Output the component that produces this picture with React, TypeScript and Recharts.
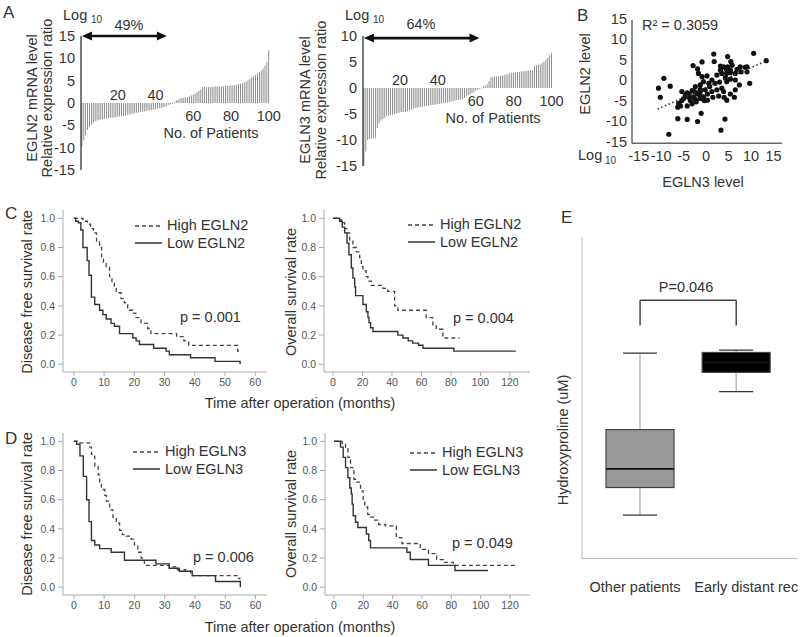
import React from 'react';
import {
  BarChart,
  Bar,
  Cell,
  XAxis,
  YAxis,
  ReferenceLine,
  ScatterChart,
  Scatter,
  LineChart,
  Line,
  Legend,
} from 'recharts';

const FONT = '"Liberation Sans", Arial, Helvetica, sans-serif';
const INK = '#333';

// A: relative expression ratio (log10) per patient, sorted
const PATIENTS = Array.from({ length: 100 }, (_, i) => i + 1);
const PATIENT_TICKS = [20, 40, 60, 80, 100];
const EGLN2_RATIO = [
  -9.7, -8.4, -7.2, -6.0, -5.3, -4.8, -4.4, -4.1, -3.9, -3.8,
  -3.7, -3.6, -3.5, -3.45, -3.4, -3.35, -3.3, -3.25, -3.2, -3.1,
  -3.0, -2.95, -2.9, -2.8, -2.7, -2.6, -2.5, -2.4, -2.3, -2.2,
  -2.1, -2.0, -1.95, -1.9, -1.8, -1.7, -1.6, -1.55, -1.5, -1.4,
  -1.3, -1.2, -1.1, -0.95, -0.8, -0.6, -0.45, -0.3, -0.15, 0.3,
  0.6, 0.8, 1.0, 1.1, 1.2, 1.3, 1.35, 1.5, 1.7, 1.9,
  2.1, 2.4, 2.7, 3.0, 3.5, 3.6, 3.6, 3.6, 3.6, 3.65,
  3.65, 3.7, 3.7, 3.7, 3.75, 3.75, 3.8, 3.8, 3.85, 3.9,
  3.95, 4.0, 4.1, 4.2, 4.3, 4.4, 4.6, 4.8, 5.1, 5.4,
  5.7, 6.0, 6.3, 6.6, 6.9, 7.3, 7.7, 8.4, 9.2, 11.8,
];
const EGLN3_RATIO = [
  -15, -12.2, -10.0, -9.8, -9.7, -9.6, -9.5, -7.7, -6.8, -6.3,
  -6.0, -5.7, -5.4, -5.3, -5.2, -5.1, -5.0, -4.9, -4.8, -4.7,
  -4.6, -4.55, -4.5, -4.4, -4.3, -4.2, -4.0, -3.85, -3.8, -3.7,
  -3.65, -3.6, -3.5, -3.45, -3.4, -3.3, -3.25, -3.2, -3.15, -3.1,
  -3.05, -3.0, -2.95, -2.9, -2.8, -2.7, -2.6, -2.5, -2.4, -2.35,
  -2.3, -2.2, -2.1, -1.9, -1.6, -1.4, -1.2, -1.0, -0.8, -0.5,
  -0.4, -0.2, -0.1, 0.3, 0.5, 0.7, 1.3, 2.0, 2.1, 2.2,
  2.2, 2.25, 2.3, 2.4, 2.5, 2.6, 2.7, 2.8, 2.9, 2.9,
  3.0, 3.1, 3.1, 3.2, 3.2, 3.3, 3.3, 3.35, 3.4, 3.4,
  4.2, 4.3, 4.4, 4.5, 4.8, 5.1, 5.5, 5.8, 6.3, 6.7,
];

// B: EGLN3 vs EGLN2 level (log10)
const LOG_TICKS = [-15, -10, -5, 0, 5, 10, 15];
const EGLN3_LEVEL = [
  10.6, 13.4, 1.7, 4.8, -0.9, -2.9, -1.9, 1.8, 3.2, 3.9,
  4.5, 5.5, 5.8, 4.8, 6.9, 7.6, 8.7, 9.1, 7.8, 6.5,
  5.4, 4.6, 3.5, 2.4, 0.2, -0.9, -1.7, -9.4, -8.0, -10.6,
  -10.2, -5.4, -4.2, -3.1, -2.4, -1.3, -0.6, 1.3, 2.0, 0.8,
  -0.2, -1.3, -2.0, -2.8, -3.9, -4.6, -5.4, -6.1, -6.3, -4.2,
  -3.1, -2.2, -1.3, -0.6, 0.3, 1.3, 2.4, 3.5, 4.6, 5.4,
  6.5, 7.4, 6.5, 5.4, 4.0, 2.8, 4.6, 6.3, 9.7, 3.9,
  -1.4, -2.4, -3.5, -5.0, -6.3, -4.2, -1.9, -1.1, 4.2, 3.3,
  -8.3, 0.3, 1.5, -0.4, -1.7, -3.9, 5.4, 4.3, 9.1, -1.3,
  -2.6, 0.6, 3.2, 3.0, -5.7,
];
const EGLN2_LEVEL = [
  6.5, 4.7, 6.3, 5.7, 4.4, 3.5, 2.7, 4.5, 3.4, 3.2,
  2.6, 4.5, 3.6, 3.2, 2.6, 3.2, 3.1, 2.0, 2.0, 1.6,
  1.8, 1.6, 1.6, 1.2, 1.0, 0.8, 1.6, 0.4, -1.5, -2.0,
  -4.2, -2.8, -3.1, -2.6, -1.6, -1.2, -0.4, 0, -0.8, -1.6,
  -2.4, -2.8, -3.4, -4.1, -4.2, -3.6, -5.0, -5.7, -6.6, -6.3,
  -5.8, -5.3, -4.5, -4.1, -3.4, -2.8, -2.4, -2.0, -0.4, 0.2,
  0, -1.2, -2.4, -3.4, -4.2, -3.9, -4.9, -4.2, -0.8, -2.8,
  -3.6, -4.7, -5.0, -4.5, -9.4, -9.6, -10.1, -8.1, -9.5, -12.2,
  -13.2, -4.9, -4.2, -5.0, -3.1, -3.4, 2.4, 0.6, 3.2, -2.3,
  -2.8, -0.8, 2.4, -0.5, -6.3,
];
const TREND_X = [-10.8, 13.5];
const TREND_SLOPE = 0.486;
const TREND_INTERCEPT = -1.85;

// C / D: Kaplan-Meier curves, [months, survival]
const SURV_TICKS = [0, 0.2, 0.4, 0.6, 0.8, 1.0];
const DFS_TICKS = [0, 10, 20, 30, 40, 50, 60];
const OS_TICKS = [0, 20, 40, 60, 80, 100, 120];
type Pt = [number, number];
const DFS_HIGH_EGLN2: Pt[] = [[0, 1], [3, 0.98], [4.5, 0.96], [5.5, 0.93], [6.5, 0.9], [7.5, 0.84], [8.5, 0.8], [9.2, 0.72], [9.8, 0.69], [10.7, 0.67], [11.8, 0.6], [12.6, 0.56], [13.4, 0.53], [14, 0.49], [15.6, 0.45], [16.7, 0.42], [17.8, 0.37], [19.5, 0.35], [20.5, 0.32], [22.2, 0.28], [24.4, 0.245], [25.5, 0.21], [34, 0.19], [36.4, 0.16], [38, 0.13], [54.2, 0.09], [55.3, 0.09]];
const DFS_LOW_EGLN2: Pt[] = [[0, 1], [0.6, 0.98], [1.5, 0.97], [2.3, 0.92], [3, 0.8], [4.4, 0.71], [5, 0.61], [5.8, 0.46], [6.9, 0.41], [8.5, 0.37], [9.6, 0.34], [10.7, 0.31], [12.3, 0.28], [13.4, 0.26], [15.1, 0.21], [19.5, 0.18], [20.6, 0.16], [21.7, 0.135], [26.4, 0.11], [30.5, 0.09], [31.6, 0.065], [38.6, 0.045], [46.7, 0.02], [55, 0]];
const OS_HIGH_EGLN2: Pt[] = [[0, 1], [4.5, 0.99], [5.6, 0.97], [7.9, 0.93], [9.5, 0.9], [11.3, 0.85], [13.5, 0.8], [15.8, 0.77], [18.1, 0.73], [19.2, 0.67], [20.3, 0.64], [22.6, 0.6], [23.7, 0.57], [26, 0.54], [33.9, 0.52], [37.2, 0.5], [41.8, 0.4], [44, 0.37], [63.2, 0.32], [67.7, 0.27], [70, 0.24], [74.5, 0.18], [85.8, 0.18]];
const OS_LOW_EGLN2: Pt[] = [[0, 1], [4.5, 0.98], [6.3, 0.94], [7.9, 0.9], [9.5, 0.83], [10.8, 0.75], [12.4, 0.66], [13.5, 0.59], [14.7, 0.53], [15.3, 0.47], [20.3, 0.41], [22.6, 0.36], [23.7, 0.32], [24.4, 0.285], [25.5, 0.25], [27.1, 0.225], [44, 0.2], [47.4, 0.18], [51, 0.16], [54, 0.145], [58, 0.13], [61, 0.11], [82, 0.09], [124, 0.09]];
const DFS_HIGH_EGLN3: Pt[] = [[0, 1], [2, 0.99], [5.2, 0.96], [5.8, 0.91], [6.9, 0.83], [8, 0.77], [8.5, 0.71], [9.1, 0.67], [10.2, 0.63], [10.7, 0.59], [11.8, 0.53], [12.9, 0.48], [14, 0.44], [15.1, 0.39], [16, 0.36], [17.3, 0.35], [18.9, 0.33], [20, 0.29], [21.1, 0.24], [22.2, 0.2], [23.3, 0.15], [31.5, 0.14], [34.2, 0.12], [36.9, 0.11], [38.6, 0.08], [54.4, 0.06], [55, 0.06]];
const DFS_LOW_EGLN3: Pt[] = [[0, 1], [0.9, 0.98], [2, 0.9], [3.1, 0.76], [4.2, 0.6], [5, 0.45], [5.8, 0.32], [6.9, 0.29], [8.5, 0.265], [12.3, 0.24], [16.7, 0.185], [27.1, 0.16], [31.5, 0.13], [34.8, 0.11], [39.1, 0.08], [46.8, 0.04], [55, 0]];
const OS_HIGH_EGLN3: Pt[] = [[0, 1], [5.6, 0.985], [7.9, 0.95], [9.5, 0.89], [11.3, 0.82], [13.6, 0.74], [15.4, 0.72], [18.1, 0.66], [19.9, 0.59], [21, 0.55], [23, 0.5], [24.9, 0.48], [27.1, 0.46], [30.5, 0.43], [35, 0.42], [42.5, 0.34], [46.3, 0.3], [58.8, 0.26], [64.4, 0.23], [70, 0.19], [74.6, 0.17], [81.4, 0.15], [124.3, 0.15]];
const OS_LOW_EGLN3: Pt[] = [[0, 1], [4.5, 0.96], [6.3, 0.89], [7.9, 0.82], [9.5, 0.75], [10.8, 0.68], [11.8, 0.64], [12.4, 0.57], [13.1, 0.49], [14.7, 0.445], [16.3, 0.41], [22.1, 0.365], [23.7, 0.32], [24.9, 0.27], [49.7, 0.24], [52, 0.19], [64.4, 0.15], [82.5, 0.115], [105, 0.115]];

// E: hydroxyproline box plot (arbitrary units, no ticks in source)
const BOX_GROUPS = ['Other patients', 'Early distant rec'];
const BOX_MIN = [1.35, 5.19];
const BOX_Q1 = [2.21, 5.79];
const BOX_MEDIAN = [2.79, 6.1];
const BOX_Q3 = [4.01, 6.41];
const BOX_MAX = [6.39, 6.48];
const BOX_FILLS = ['#999999', '#000000'];
const BOX_LABEL_NUDGE = [-5, 10];
const BRACKET_TOP = 8.03;
const BRACKET_LEG = 7.25;

type Rect = { x0: number; y0: number; x1: number; y1: number };
type Pad = { l: number; t: number; r: number; b: number };

const frame = (b: Rect, p: Pad) => ({
  style: { position: 'absolute' as const, left: b.x0 - p.l, top: b.y0 - p.t },
  width: b.x1 - b.x0 + p.l + p.r,
  height: b.y1 - b.y0 + p.t + p.b,
  margin: { top: p.t, right: p.r, bottom: 0, left: 0 },
});

const arrowShape = (p: any) => {
  const { x1, y1, x2 } = p;
  const h = 10;
  const w = 4.5;
  return (
    <g>
      <line x1={x1 + h - 1} y1={y1} x2={x2 - h + 1} y2={y1} stroke="#111" strokeWidth={2.6} />
      <polygon points={`${x1},${y1} ${x1 + h},${y1 - w} ${x1 + h},${y1 + w}`} fill="#111" />
      <polygon points={`${x2},${y1} ${x2 - h},${y1 - w} ${x2 - h},${y1 + w}`} fill="#111" />
    </g>
  );
};

function Waterfall({ values, box, yDomain, yTicks, arrowTo, arrowY }: {
  values: number[]; box: Rect; yDomain: [number, number]; yTicks: number[]; arrowTo: number; arrowY: number;
}) {
  const pad = { l: 40, t: 12, r: 18, b: 12 };
  const f = frame(box, pad);
  const data = PATIENTS.map((p, i) => ({ patient: p, ratio: values[i] }));
  const zeroY = pad.t + ((box.y1 - box.y0) * yDomain[1]) / (yDomain[1] - yDomain[0]);
  const renderTick = (props: any) => {
    const v = props.payload.value;
    if (!PATIENT_TICKS.includes(v)) return <g />;
    const above = values[v - 1] < -1;
    return (
      <text x={props.x} y={above ? zeroY - 3 : zeroY + 18} textAnchor="middle" fontSize={14.5} fill={INK}>
        {v}
      </text>
    );
  };
  return (
    <div style={f.style}>
      <BarChart width={f.width} height={f.height} margin={f.margin} data={data} barCategoryGap="30%">
        <XAxis dataKey="patient" type="category" interval={0} tick={renderTick} tickLine={false} axisLine={false} height={pad.b} />
        <YAxis type="number" domain={yDomain} ticks={yTicks} interval={0} width={pad.l} tickLine={false} tickSize={3} tickMargin={3}
          axisLine={{ stroke: '#222', strokeWidth: 1.2 }} tick={{ fontSize: 14.5, fill: INK }} />
        <Bar dataKey="ratio" fill="#6e6e6e" isAnimationActive={false} />
        <ReferenceLine segment={[{ x: 1, y: arrowY }, { x: arrowTo, y: arrowY }]} shape={arrowShape} ifOverflow="visible" />
      </BarChart>
    </div>
  );
}

function ScatterPanel() {
  const box = { x0: 632, y0: 20, x1: 782, y1: 143.3 };
  const pad = { l: 40, t: 8, r: 14, b: 24 };
  const f = frame(box, pad);
  const points = EGLN3_LEVEL.map((x, i) => ({ x, y: EGLN2_LEVEL[i] }));
  const trend = TREND_X.map((x) => ({ x, y: TREND_SLOPE * x + TREND_INTERCEPT }));
  return (
    <div style={f.style}>
      <ScatterChart width={f.width} height={f.height} margin={f.margin}>
        <XAxis type="number" dataKey="x" domain={[-16.5, 16.9]} ticks={LOG_TICKS} interval={0} tickLine={false} tickSize={4} tickMargin={3}
          axisLine={{ stroke: '#666', strokeWidth: 1.5 }} tick={{ fontSize: 14.5, fill: INK }} height={pad.b} />
        <YAxis type="number" dataKey="y" domain={[-15.4, 14.6]} ticks={LOG_TICKS} interval={0} tickLine={false} tickSize={2} tickMargin={3}
          axisLine={{ stroke: '#666', strokeWidth: 1.5 }} tick={{ fontSize: 14.5, fill: INK }} width={pad.l} />
        <Scatter data={points} fill="#111" isAnimationActive={false}
          shape={(p: any) => <circle cx={p.cx} cy={p.cy} r={2.6} fill="#111" />} />
        <Scatter data={trend} isAnimationActive={false} line={{ stroke: '#333', strokeWidth: 1.6, strokeDasharray: '1.5 2.5' }}
          shape={() => <g />} />
      </ScatterChart>
    </div>
  );
}

const DASH = '4 3';

function KmPanel({ box, xDomain, xTicks, high, low, gene, legendAt }: {
  box: Rect; xDomain: [number, number]; xTicks: number[]; high: Pt[]; low: Pt[]; gene: string; legendAt: { x: number; y: number };
}) {
  const pad = { l: 40, t: 6, r: 8, b: 24 };
  const f = frame(box, pad);
  const rows = (pts: Pt[]) => pts.map(([t, s]) => ({ t, s }));
  const highName = `High ${gene}`;
  const lowName = `Low ${gene}`;
  const legendContent = (props: any) => (
    <div style={{ fontSize: 14.5, color: INK, lineHeight: '17.5px', whiteSpace: 'nowrap' }}>
      {(props.payload || []).map((e: any) => (
        <div key={e.value} style={{ display: 'flex', alignItems: 'center' }}>
          <svg width={30} height={10}>
            <line x1={0} y1={5} x2={27} y2={5} stroke={e.color} strokeWidth={1.5}
              strokeDasharray={e.value === highName ? DASH : undefined} />
          </svg>
          <span style={{ marginLeft: 2 }}>{e.value}</span>
        </div>
      ))}
    </div>
  );
  const tickStyle = { fontSize: 10.5, fill: '#555' };
  return (
    <div style={f.style}>
      <LineChart width={f.width} height={f.height} margin={f.margin}>
        <XAxis type="number" dataKey="t" domain={xDomain} ticks={xTicks} interval={0} allowDataOverflow height={pad.b}
          tickSize={4} tickMargin={3} axisLine={{ stroke: '#aaa' }} tickLine={{ stroke: '#aaa' }} tick={tickStyle} />
        <YAxis type="number" domain={[-0.053, 1.057]} ticks={SURV_TICKS} interval={0} allowDataOverflow width={pad.l}
          tickFormatter={(v: number) => v.toFixed(1)} tickSize={5} tickMargin={3}
          axisLine={{ stroke: '#aaa' }} tickLine={{ stroke: '#aaa' }} tick={tickStyle} />
        <Legend layout="vertical" align="center" verticalAlign="middle" content={legendContent}
          wrapperStyle={{ left: legendAt.x - (box.x0 - pad.l), top: legendAt.y - (box.y0 - pad.t), width: 'auto', height: 'auto' }} />
        <Line data={rows(high)} dataKey="s" name={highName} type="stepAfter" stroke="#444" strokeWidth={1.3}
          strokeDasharray={DASH} dot={false} isAnimationActive={false} />
        <Line data={rows(low)} dataKey="s" name={lowName} type="stepAfter" stroke="#333" strokeWidth={1.4}
          dot={false} isAnimationActive={false} />
      </LineChart>
    </div>
  );
}

const boxShape = (p: any) => {
  const { x, y, width, height, payload, fill } = p;
  const top = Math.min(y, y + height);
  const h = Math.abs(height);
  const k = h / (payload.q3 - payload.q1);
  const cx = x + width / 2;
  const yOf = (v: number) => top + (payload.q3 - v) * k;
  const cap = width / 4;
  return (
    <g>
      <line x1={cx} x2={cx} y1={yOf(payload.max)} y2={top} stroke="#999" />
      <line x1={cx} x2={cx} y1={top + h} y2={yOf(payload.min)} stroke="#999" />
      <line x1={cx - cap} x2={cx + cap} y1={yOf(payload.max)} y2={yOf(payload.max)} stroke="#333" strokeWidth={1.3} />
      <line x1={cx - cap} x2={cx + cap} y1={yOf(payload.min)} y2={yOf(payload.min)} stroke="#333" strokeWidth={1.3} />
      <rect x={x} y={top} width={width} height={h} fill={fill} stroke="#444" strokeWidth={1.2} />
      <line x1={x} x2={x + width} y1={yOf(payload.median)} y2={yOf(payload.median)} stroke="#111" strokeWidth={1.6} />
    </g>
  );
};

function BoxPanel() {
  const box = { x0: 581.7, y0: 236.7, x1: 798, y1: 558.3 };
  const pad = { l: 4, t: 4, r: 2, b: 40 };
  const f = frame(box, pad);
  const data = BOX_GROUPS.map((group, i) => ({
    group,
    iqr: [BOX_Q1[i], BOX_Q3[i]],
    min: BOX_MIN[i],
    q1: BOX_Q1[i],
    median: BOX_MEDIAN[i],
    q3: BOX_Q3[i],
    max: BOX_MAX[i],
  }));
  const seg = { stroke: '#444', strokeWidth: 1.5 };
  const renderTick = (props: any) => (
    <text x={props.x + BOX_LABEL_NUDGE[props.index]} y={props.y} dy="0.71em" textAnchor="middle" fontSize={14.5} fill={INK}>
      {props.payload.value}
    </text>
  );
  return (
    <div style={f.style}>
      <BarChart width={f.width} height={f.height} margin={f.margin} data={data}>
        <XAxis dataKey="group" type="category" padding={{ left: 10, right: 14 }} tickLine={false} tickSize={14} tickMargin={9}
          axisLine={{ stroke: '#bbb' }} tick={renderTick} height={pad.b} interval={0} />
        <YAxis type="number" domain={[0, 10]} tick={false} tickLine={false} axisLine={{ stroke: '#bbb' }} width={pad.l} />
        <Bar dataKey="iqr" barSize={68} shape={boxShape} isAnimationActive={false}>
          {data.map((d, i) => (
            <Cell key={d.group} fill={BOX_FILLS[i]} />
          ))}
        </Bar>
        <ReferenceLine segment={[{ x: BOX_GROUPS[0], y: BRACKET_TOP }, { x: BOX_GROUPS[1], y: BRACKET_TOP }]} {...seg} />
        <ReferenceLine segment={[{ x: BOX_GROUPS[0], y: BRACKET_TOP }, { x: BOX_GROUPS[0], y: BRACKET_LEG }]} {...seg} />
        <ReferenceLine segment={[{ x: BOX_GROUPS[1], y: BRACKET_TOP }, { x: BOX_GROUPS[1], y: BRACKET_LEG }]} {...seg} />
      </BarChart>
    </div>
  );
}

const VText = ({ x, y, children, size = 14.5 }: { x: number; y: number; children: React.ReactNode; size?: number }) => (
  <text transform={`translate(${x},${y}) rotate(-90)`} textAnchor="middle" dominantBaseline="central" fontSize={size}>
    {children}
  </text>
);

const T = ({ x, y, children, size = 14.5, anchor = 'start' }: {
  x: number; y: number; children: React.ReactNode; size?: number; anchor?: 'start' | 'middle' | 'end';
}) => (
  <text x={x} y={y} fontSize={size} textAnchor={anchor} dominantBaseline="central">
    {children}
  </text>
);

function Overlay() {
  return (
    <svg width={800} height={637} style={{ position: 'absolute', left: 0, top: 0, pointerEvents: 'none' }} fill={INK}>
      <T x={3} y={12} size={17}>A</T>
      <T x={63} y={15}>Log</T>
      <T x={91} y={19} size={10}>10</T>
      <T x={129} y={25} anchor="middle">49%</T>
      <VText x={32} y={98}>EGLN2 mRNA level</VText>
      <VText x={47} y={98}>Relative expression ratio</VText>
      <T x={211} y={133} anchor="middle">No. of Patients</T>

      <T x={345} y={15}>Log</T>
      <T x={373} y={19} size={10}>10</T>
      <T x={421} y={24} anchor="middle">64%</T>
      <VText x={305} y={100}>EGLN3 mRNA level</VText>
      <VText x={321} y={100}>Relative expression ratio</VText>
      <T x={493} y={118} anchor="middle">No. of Patients</T>

      <T x={577} y={15} size={17}>B</T>
      <T x={642} y={25}>R² = 0.3059</T>
      <T x={578} y={155}>Log</T>
      <T x={605} y={160} size={10}>10</T>
      <T x={703} y={182} anchor="middle">EGLN3 level</T>
      <VText x={585} y={74}>EGLN2 level</VText>

      <T x={5} y={213} size={17}>C</T>
      <VText x={27} y={292}>Disease free survival rate</VText>
      <VText x={291} y={292}>Overall survival rate</VText>
      <T x={180} y={317}>p = 0.001</T>
      <T x={453} y={318}>p = 0.004</T>
      <T x={300} y={403} anchor="middle">Time after operation (months)</T>

      <T x={5} y={438} size={17}>D</T>
      <VText x={27} y={514}>Disease free survival rate</VText>
      <VText x={291} y={514}>Overall survival rate</VText>
      <T x={193} y={557}>p = 0.006</T>
      <T x={452} y={543}>p = 0.049</T>
      <T x={300} y={627} anchor="middle">Time after operation (months)</T>

      <T x={561} y={217} size={17}>E</T>
      <VText x={563} y={440}>Hydroxyproline (uM)</VText>
      <T x={686} y={287} anchor="middle">P=0.046</T>
    </svg>
  );
}

export default function App() {
  return (
    <div style={{ position: 'absolute', left: 0, top: 0, width: 800, height: 637, background: '#fff', fontFamily: FONT, color: INK, overflow: 'hidden' }}>
      <Waterfall values={EGLN2_RATIO} box={{ x0: 81.3, y0: 36, x1: 270, y1: 170 }} yDomain={[-15, 15]}
        yTicks={[-15, -10, -5, 0, 5, 10, 15]} arrowTo={46} arrowY={15} />
      <Waterfall values={EGLN3_RATIO} box={{ x0: 362.5, y0: 36.3, x1: 552, y1: 166.3 }} yDomain={[-15, 10]}
        yTicks={[-15, -10, -5, 0, 5, 10]} arrowTo={62} arrowY={9.6} />
      <ScatterPanel />
      <KmPanel box={{ x0: 63.3, y0: 210, x1: 267, y1: 372 }} xDomain={[-3.6, 63.8]} xTicks={DFS_TICKS}
        high={DFS_HIGH_EGLN2} low={DFS_LOW_EGLN2} gene="EGLN2" legendAt={{ x: 135, y: 217 }} />
      <KmPanel box={{ x0: 324, y0: 210, x1: 530, y1: 372 }} xDomain={[-6.1, 133.6]} xTicks={OS_TICKS}
        high={OS_HIGH_EGLN2} low={OS_LOW_EGLN2} gene="EGLN2" legendAt={{ x: 408, y: 216 }} />
      <KmPanel box={{ x0: 63, y0: 433, x1: 267, y1: 595 }} xDomain={[-3.6, 63.8]} xTicks={DFS_TICKS}
        high={DFS_HIGH_EGLN3} low={DFS_LOW_EGLN3} gene="EGLN3" legendAt={{ x: 133, y: 443 }} />
      <KmPanel box={{ x0: 325, y0: 433, x1: 530, y1: 595 }} xDomain={[-6.1, 133.6]} xTicks={OS_TICKS}
        high={OS_HIGH_EGLN3} low={OS_LOW_EGLN3} gene="EGLN3" legendAt={{ x: 410, y: 444 }} />
      <BoxPanel />
      <Overlay />
    </div>
  );
}
